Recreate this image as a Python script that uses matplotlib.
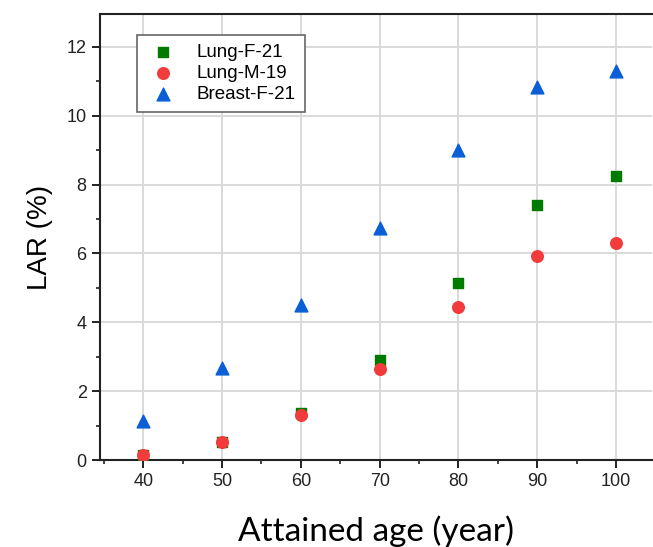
import matplotlib.pyplot as plt
from matplotlib.ticker import MultipleLocator

ages = [40, 50, 60, 70, 80, 90, 100]
lung_f_21 = [0.15, 0.53, 1.38, 2.91, 5.14, 7.41, 8.26]
lung_m_19 = [0.15, 0.52, 1.31, 2.65, 4.45, 5.93, 6.31]
breast_f_21 = [1.13, 2.67, 4.50, 6.74, 9.01, 10.84, 11.31]

plt.rcParams['font.family'] = ['Liberation Sans', 'DejaVu Sans']

fig = plt.figure(figsize=(6.53, 5.47), dpi=100)
ax = fig.add_axes([0.153, 0.159, 0.846, 0.815])

ax.scatter(ages, lung_f_21, marker='s', s=50, color='#007a00', label='Lung-F-21', zorder=3)
ax.scatter(ages, lung_m_19, marker='o', s=70, color='#f23b3b', label='Lung-M-19', zorder=4)
ax.scatter(ages, breast_f_21, marker='^', s=85, color='#0a5fd6', label='Breast-F-21', zorder=3)

ax.set_xlim(34.5, 104.6)
ax.set_ylim(0, 12.95)
ax.xaxis.set_major_locator(MultipleLocator(10))
ax.xaxis.set_minor_locator(MultipleLocator(5))
ax.yaxis.set_major_locator(MultipleLocator(2))
ax.yaxis.set_minor_locator(MultipleLocator(1))

ax.grid(True, which='major', color='#d9d9d9', linewidth=1.4, zorder=0)
ax.set_axisbelow(True)

ax.spines['right'].set_visible(False)
for s in ['left', 'bottom', 'top']:
    ax.spines[s].set_linewidth(1.5)
    ax.spines[s].set_color('#222222')

ax.tick_params(which='major', direction='out', length=6, width=1.4,
               labelsize=13, colors='#222222', labelcolor='#222222')
ax.tick_params(which='minor', direction='out', length=3, width=1.2, colors='#222222')

ax.set_xlabel('Attained age (year)', fontsize=24, family='Lato', labelpad=18)
ax.set_ylabel('LAR (%)', fontsize=20, labelpad=10)

leg = ax.legend(loc='upper left', bbox_to_anchor=(0.05, 0.975), fancybox=False,
                edgecolor='#666666', framealpha=1, prop={'size': 13.5},
                handletextpad=0.9, borderpad=0.5, labelspacing=0.2, handlelength=1.8)
leg.get_frame().set_linewidth(1.2)

fig.savefig('out.png', dpi=100)
